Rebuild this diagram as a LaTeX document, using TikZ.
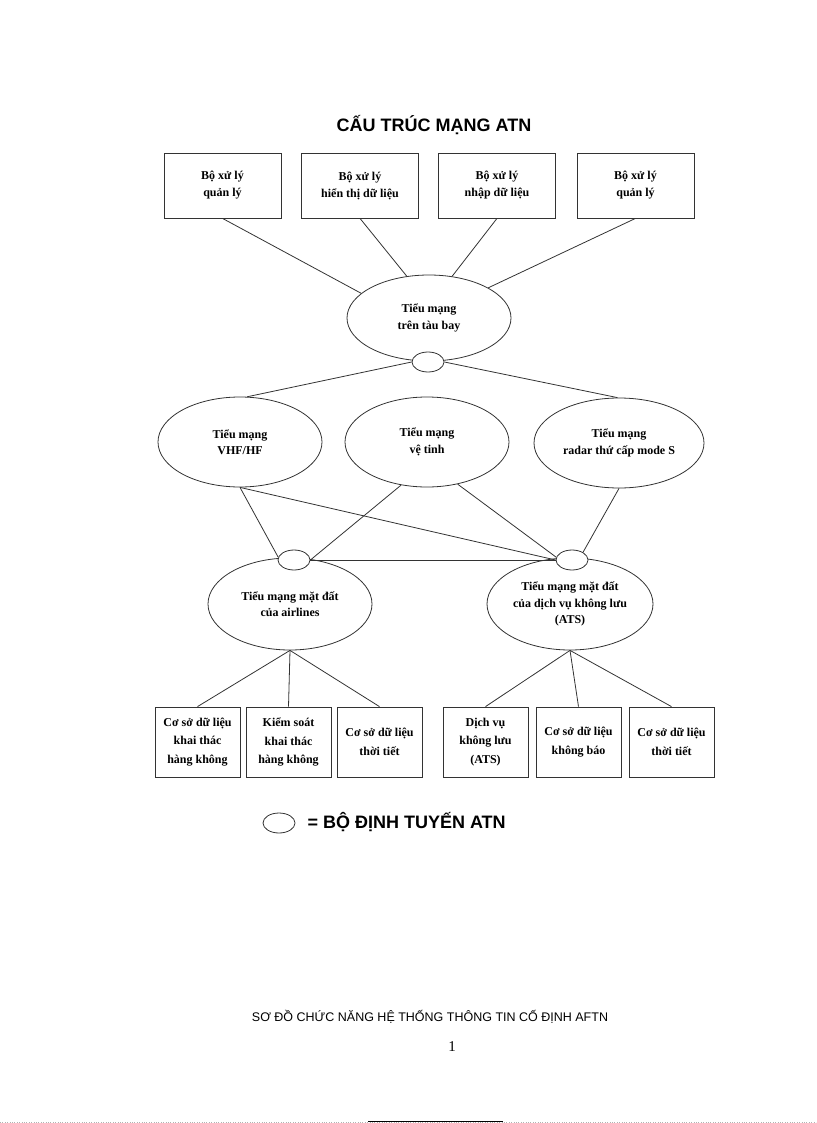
\documentclass[tikz,border=0pt]{standalone}
\usepackage{fontspec}
\setmainfont{Liberation Serif}
\newfontfamily\headfont{Liberation Sans}
\usetikzlibrary{shapes.geometric}

\begin{document}
\begin{tikzpicture}[x=1pt,y=-1pt,
    link/.style={draw=black!80,line width=0.8pt},
    proc/.style={shape=rectangle,draw=black!80,line width=0.8pt,minimum width=117pt,minimum height=65pt,inner sep=0pt,align=center,font=\bfseries\fontsize{12}{17}\selectfont},
    db/.style={shape=rectangle,draw=black!80,line width=0.8pt,minimum width=85pt,minimum height=70pt,inner sep=0pt,align=center,font=\bfseries\fontsize{12}{18.5}\selectfont},
    subnet/.style={shape=ellipse,draw=black!80,line width=0.8pt,minimum width=164pt,minimum height=90pt,inner xsep=-25pt,inner ysep=0pt,align=center,font=\bfseries\fontsize{12}{16.5}\selectfont},
    router/.style={shape=ellipse,draw=black!80,line width=0.8pt,fill=white,minimum width=32pt,minimum height=20pt,inner sep=0pt}]
    \useasboundingbox (0,0) rectangle (816,1123);

    \node[font=\headfont\bfseries\fontsize{18}{20}\selectfont] (title) at (434,125) {CẤU TRÚC MẠNG ATN};

    \node[proc] (pb1) at (222.5,185.5) {Bộ xử lý\\quản lý};
    \node[proc] (pb2) at (360,185.5) {Bộ xử lý\\hiển thị dữ liệu};
    \node[proc] (pb3) at (497,185.5) {Bộ xử lý\\nhập dữ liệu};
    \node[proc] (pb4) at (635.5,185.5) {Bộ xử lý\\quản lý};

    \node[subnet,minimum height=86pt] (onboard) at (429,318) {Tiểu mạng\\trên tàu bay};
    \node[subnet] (vhf) at (240,442) {Tiểu mạng\\VHF/HF};
    \node[subnet] (vetinh) at (427,442) {Tiểu mạng\\vệ tinh};
    \node[subnet,minimum width=170pt] (radar) at (619,443) {Tiểu mạng\\radar thứ cấp mode S};
    \node[subnet,minimum height=92pt] (airlines) at (290,604) {Tiểu mạng mặt đất\\của airlines};
    \node[subnet,minimum width=166pt,minimum height=92pt] (ats) at (570,604) {Tiểu mạng mặt đất\\của dịch vụ không lưu\\(ATS)};

    \node[router] (rt1) at (428,362) {};
    \node[router] (rt2) at (294,560) {};
    \node[router] (rt3) at (572,560) {};

    \node[db] (db1) at (197.5,742) {Cơ sở dữ liệu\\khai thác\\hàng không};
    \node[db] (db2) at (288.5,742) {Kiểm soát\\khai thác\\hàng không};
    \node[db] (db3) at (379.5,742) {Cơ sở dữ liệu\\thời tiết};
    \node[db] (db4) at (485.5,742) {Dịch vụ\\không lưu\\(ATS)};
    \node[db] (db5) at (578.5,742) {Cơ sở dữ liệu\\không báo};
    \node[db] (db6) at (671.5,742) {Cơ sở dữ liệu\\thời tiết};

    \path[link] (pb1.south) edge (onboard.160);
    \path[link] (pb2.south) edge (onboard.118);
    \path[link] (pb3.south) edge (onboard.61);
    \path[link] (pb4.south) edge (onboard.27);

    \path[link] (rt1.west) edge (vhf.81);
    \path[link] (rt1.east) edge (radar.92);

    \path[link] (vhf.south) edge (rt2.170);
    \path[link] (vhf.south) edge (rt3.west);
    \path[link] (vetinh.239) edge (rt2.east);
    \path[link] (vetinh.306) edge (rt3.170);
    \path[link] (radar.south) edge (rt3.35);
    \path[link] (rt2.east) edge (rt3.west);

    \path[link] (airlines.south) edge (db1.north);
    \path[link] (airlines.south) edge (db2.north);
    \path[link] (airlines.south) edge (db3.north);
    \path[link] (ats.south) edge (db4.north);
    \path[link] (ats.south) edge (db5.north);
    \path[link] (ats.south) edge (db6.north);

    \node[router] (key) at (279,823) {};
    \node[anchor=west,font=\headfont\bfseries\fontsize{18}{20}\selectfont] (keytext) at (304,822) {= BỘ ĐỊNH TUYẾN ATN};

    \node[font=\headfont\fontsize{12.5}{15}\selectfont] (caption) at (430,1017) {SƠ ĐỒ CHỨC NĂNG HỆ THỐNG THÔNG TIN CỐ ĐỊNH AFTN};
    \node[font=\fontsize{15}{18}\selectfont] (pageno) at (452,1047) {1};

    \draw[black!30,dotted] (0,1122.5) -- (816,1122.5);
    \draw[line width=1pt] (368,1121.5) -- (503,1121.5);
  \end{tikzpicture}
\end{document}
